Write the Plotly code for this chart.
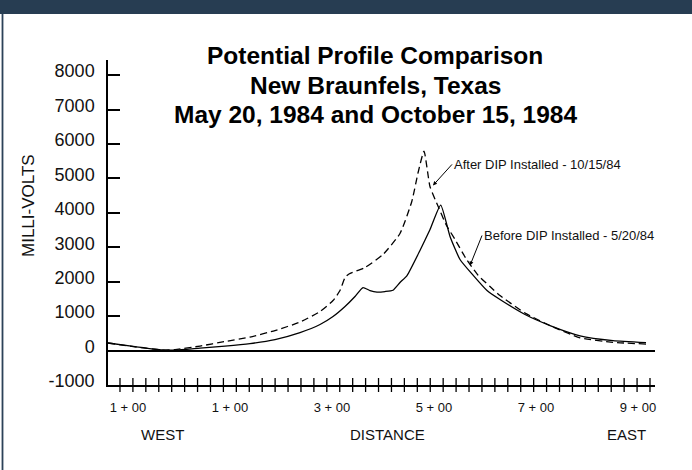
import numpy as np
import plotly.graph_objects as go

# Station positions (hundreds of feet) and potentials (mV)
before_x = [-1.392, -0.863, -0.333, -0.078, 0.412, 0.902, 1.392, 1.882, 2.373, 2.765, 3.020,
            3.255, 3.451, 3.608, 3.745, 3.882, 4.039, 4.196, 4.333, 4.471, 4.725, 4.922, 5.131,
            5.314, 5.510, 5.765, 6.039, 6.294, 6.784, 7.275, 7.863, 8.510, 9.157]
before_y = [220, 116, 20, 15, 73, 131, 203, 320, 523, 756, 988,
            1279, 1570, 1831, 1744, 1700, 1715, 1753, 1977, 2180, 2907, 3517, 4224,
            3314, 2645, 2190, 1744, 1483, 1047, 727, 430, 290, 232]

after_x = [-1.392, -0.863, -0.333, -0.078, 0.412, 0.902, 1.392, 1.882, 2.373, 2.765, 3.020,
           3.157, 3.255, 3.333, 3.647, 4.0, 4.333, 4.563, 4.692, 4.804, 4.922, 5.084, 5.235,
           5.412, 5.627, 5.863, 6.098, 6.294, 6.784, 7.275, 7.863, 8.510, 9.157]
after_y = [220, 110, 15, 30, 131, 262, 392, 581, 828, 1134, 1453,
           1744, 2122, 2224, 2413, 2791, 3401, 4323, 5195, 5794, 4759, 4177, 3663,
           3227, 2674, 2189, 1860, 1599, 1090, 727, 370, 240, 190]

x_tickvals = [-1, 1, 3, 5, 7, 9]
x_ticktext = ["1 + 00", "1 + 00", "3 + 00", "5 + 00", "7 + 00", "9 + 00"]
y_tickvals = [-1000, 0, 1000, 2000, 3000, 4000, 5000, 6000, 7000, 8000]
y_ticktext = ["-1000", "0", "1000", "2000", "3000", "4000", "5000", "6000", "7000", "8000"]
station_marks = list(np.linspace(-1.157, 9.235, 42))

REG = "Liberation Sans, Arial, sans-serif"

fig = go.Figure()
fig.add_trace(go.Scatter(x=before_x, y=before_y, mode="lines",
                         line=dict(color="black", width=1.3, shape="spline", smoothing=0.5),
                         name="Before"))
fig.add_trace(go.Scatter(x=after_x, y=after_y, mode="lines",
                         line=dict(color="black", width=1.3, dash="7px,4px",
                                   shape="spline", smoothing=0.5),
                         name="After"))
fig.add_trace(go.Scatter(x=station_marks, y=[-1000] * len(station_marks), mode="markers",
                         marker=dict(symbol="line-ns", size=10,
                                     line=dict(color="black", width=1.3)),
                         cliponaxis=False, hoverinfo="skip"))

fig.update_layout(
    width=692, height=470,
    margin=dict(l=108, r=37, t=60, b=85),
    paper_bgcolor="white", plot_bgcolor="white",
    showlegend=False,
    xaxis=dict(range=[-1.392, 9.333], showgrid=False, zeroline=False,
               showline=True, linecolor="black", linewidth=1.5,
               tickvals=x_tickvals, ticktext=x_ticktext, ticks="",
               ticklabelstandoff=10,
               tickfont=dict(family=REG, size=13, color="#111")),
    yaxis=dict(range=[-1000, 8440], showgrid=False,
               zeroline=True, zerolinecolor="black", zerolinewidth=1.5,
               showline=True, linecolor="black", linewidth=1.5,
               tickvals=y_tickvals, ticktext=y_ticktext, ticks="inside", ticklen=12,
               tickwidth=1.5, tickcolor="black", ticklabelstandoff=8, ticklabelshift=-4,
               tickfont=dict(family=REG, size=18, color="#111")),
    shapes=[
        dict(type="rect", xref="paper", yref="paper", x0=-0.25, x1=1.2,
             y0=(385 - 14) / 325, y1=1.3, fillcolor="#273d52", line=dict(width=0),
             layer="above"),
        dict(type="line", xref="paper", yref="paper", x0=(2.5 - 108) / 547, x1=(2.5 - 108) / 547,
             y0=(385 - 14) / 325, y1=-0.3, line=dict(color="#2c4258", width=1.8)),
    ],
)

titles = ["Potential Profile Comparison", "New Braunfels, Texas",
          "May 20, 1984 and October 15, 1984"]
for t, py in zip(titles, [56, 86, 115]):
    fig.add_annotation(text="<b>%s</b>" % t, xref="paper", yref="paper",
                       x=(375 - 108) / 547, y=(385 - py) / 325, showarrow=False,
                       xanchor="center", yanchor="middle",
                       font=dict(family=REG, size=24.5, color="black"))

for t, xv in [("WEST", -0.314), ("DISTANCE", 4.09), ("EAST", 8.775)]:
    fig.add_annotation(text=t, xref="x", yref="paper", x=xv, y=(385 - 435) / 325,
                       showarrow=False, xanchor="center", yanchor="middle",
                       font=dict(family=REG, size=15, color="#111"))

fig.add_annotation(text="MILLI-VOLTS", xref="paper", yref="paper",
                   x=(28 - 108) / 547, y=(385 - 206) / 325, textangle=-90,
                   showarrow=False, xanchor="center", yanchor="middle",
                   font=dict(family=REG, size=17, color="#111"))

fig.add_annotation(text="After DIP Installed - 10/15/84", x=4.98, y=4797,
                   ax=19, ay=-21, xanchor="left", yanchor="middle",
                   showarrow=True, arrowhead=2, arrowsize=0.8, arrowwidth=1,
                   arrowcolor="black",
                   font=dict(family=REG, size=13, color="#111"))
fig.add_annotation(text="Before DIP Installed - 5/20/84", x=5.706, y=2471,
                   ax=12, ay=-30, xanchor="left", yanchor="middle",
                   showarrow=True, arrowhead=2, arrowsize=0.8, arrowwidth=1,
                   arrowcolor="black",
                   font=dict(family=REG, size=13, color="#111"))

fig.write_html("out.html", config={"displayModeBar": False},
               post_script="document.body.style.margin='0';document.body.style.overflow='hidden';")
